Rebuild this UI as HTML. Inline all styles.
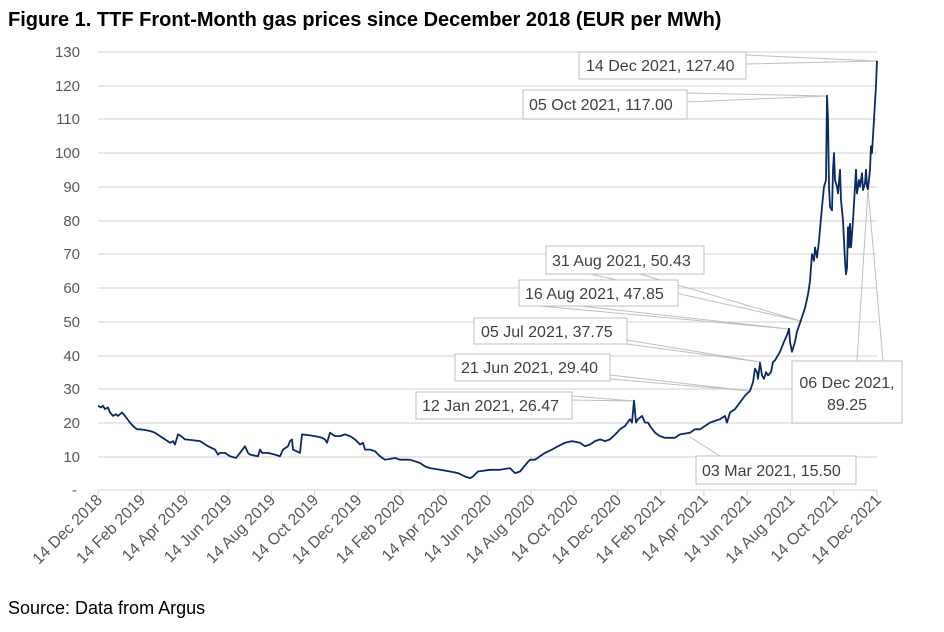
<!DOCTYPE html>
<html><head><meta charset="utf-8"><style>
body{margin:0;background:#fff;width:944px;height:627px;overflow:hidden;font-family:"Liberation Sans",sans-serif}
</style></head><body>
<svg width="944" height="627" xmlns="http://www.w3.org/2000/svg" font-family="Liberation Sans, sans-serif">
<text x="8" y="26" font-size="20" font-weight="bold" fill="#000">Figure 1. TTF Front-Month gas prices since December 2018 (EUR per MWh)</text>
<g stroke="#d9d9d9" stroke-width="1.2">
<line x1="98" x2="877" y1="52" y2="52"/><line x1="98" x2="877" y1="86" y2="86"/><line x1="98" x2="877" y1="119" y2="119"/><line x1="98" x2="877" y1="153" y2="153"/><line x1="98" x2="877" y1="187" y2="187"/><line x1="98" x2="877" y1="221" y2="221"/><line x1="98" x2="877" y1="254" y2="254"/><line x1="98" x2="877" y1="288" y2="288"/><line x1="98" x2="877" y1="322" y2="322"/><line x1="98" x2="877" y1="356" y2="356"/><line x1="98" x2="877" y1="389" y2="389"/><line x1="98" x2="877" y1="423" y2="423"/><line x1="98" x2="877" y1="457" y2="457"/>
<line x1="98" x2="877" y1="490" y2="490"/>
</g>
<g font-size="15" fill="#595959" text-anchor="end">
<text x="80" y="57">130</text><text x="80" y="91">120</text><text x="80" y="124">110</text><text x="80" y="158">100</text><text x="80" y="192">90</text><text x="80" y="226">80</text><text x="80" y="259">70</text><text x="80" y="293">60</text><text x="80" y="327">50</text><text x="80" y="361">40</text><text x="80" y="394">30</text><text x="80" y="428">20</text><text x="80" y="462">10</text><text x="77" y="495">-</text>
</g>
<g stroke="#d9d9d9" stroke-width="1.2" id="ticks"></g>
<g font-size="16" fill="#595959" text-anchor="end" id="xl"></g>
<g fill="none" stroke="#bfbfbf" stroke-width="1">
<polyline points="746,55 877,61 746,64"/>
<polyline points="687,93 827,96 687,102"/>
<polyline points="590,274 801,321 640,274"/>
<polyline points="540,306 789,329 580,306"/>
<polyline points="627,340 760,362 627,344"/>
<polyline points="610,375 750,391 610,379"/>
<polyline points="572,396 634,401 572,400"/>
<polyline points="690,437 720,456 760,456"/>
<polyline points="857,361 868,189 883,361"/>
</g>
<polyline fill="none" stroke="#0b2a63" stroke-width="1.8" stroke-linejoin="round" id="ser"/>
<g font-size="16" fill="#404040">
<rect x="579" y="52" width="167" height="27" fill="#fff" stroke="#bfbfbf"/><text x="586" y="71">14 Dec 2021,  127.40</text>
<rect x="523" y="90" width="164" height="29" fill="#fff" stroke="#bfbfbf"/><text x="529" y="110">05 Oct 2021,  117.00</text>
<rect x="546" y="246" width="158" height="28" fill="#fff" stroke="#bfbfbf"/><text x="552" y="266">31 Aug 2021,  50.43</text>
<rect x="519" y="280" width="159" height="26" fill="#fff" stroke="#bfbfbf"/><text x="525" y="299">16 Aug 2021,  47.85</text>
<rect x="474" y="318" width="153" height="26" fill="#fff" stroke="#bfbfbf"/><text x="481" y="337">05 Jul 2021,  37.75</text>
<rect x="455" y="354" width="155" height="27" fill="#fff" stroke="#bfbfbf"/><text x="461" y="373">21 Jun 2021,  29.40</text>
<rect x="416" y="392" width="156" height="27" fill="#fff" stroke="#bfbfbf"/><text x="422" y="411">12 Jan 2021,  26.47</text>
<rect x="696" y="456" width="160" height="28" fill="#fff" stroke="#bfbfbf"/><text x="702" y="476">03 Mar 2021,  15.50</text>
<rect x="792" y="361" width="110" height="62" fill="#fff" stroke="#bfbfbf"/><text x="847" y="388" text-anchor="middle">06 Dec 2021,</text><text x="847" y="410" text-anchor="middle">89.25</text>
</g>
<text x="8" y="614" font-size="18" fill="#000">Source: Data from Argus</text>
</svg>
<script>
var months=["Dec 2018","Feb 2019","Apr 2019","Jun 2019","Aug 2019","Oct 2019","Dec 2019","Feb 2020","Apr 2020","Jun 2020","Aug 2020","Oct 2020","Dec 2020","Feb 2021","Apr 2021","Jun 2021","Aug 2021","Oct 2021","Dec 2021"];
var t=document.getElementById('ticks'),xl=document.getElementById('xl'),ns="http://www.w3.org/2000/svg";
months.forEach(function(m,i){var x=98+i*779/18;
var l=document.createElementNS(ns,'line');l.setAttribute('x1',x);l.setAttribute('x2',x);l.setAttribute('y1',490);l.setAttribute('y2',496);t.appendChild(l);
var tx=document.createElementNS(ns,'text');tx.setAttribute('transform','translate('+(x+5)+',501) rotate(-45)');tx.textContent='14 '+m;xl.appendChild(tx);});
var d=[[98,25],[101,24.5],[103,25],[105,24],[108,24.5],[110,23],[113,22],[116,22.5],[118,22],[122,23],[125,22],[130,20],[133,19],[137,18],[140,18],[145,17.8],[150,17.5],[155,17],[160,16],[165,15],[170,14],[173,14.5],[175,13.5],[178,16.5],[181,16],[185,15],[192,14.8],[200,14.5],[208,13],[215,12],[218,10.5],[220,11],[225,11],[230,10],[236,9.5],[240,11],[245,13],[248,11],[250,10.5],[258,10],[260,12],[262,11],[268,11],[275,10.5],[280,10],[283,12],[288,13],[290,14.5],[292,15],[293,12],[300,11],[302,16.5],[310,16.2],[315,16],[322,15.5],[325,15],[327,14],[330,17],[335,16],[340,16],[345,16.5],[350,16],[355,15],[360,13.5],[363,14],[365,12],[370,12],[375,11.5],[380,10],[385,9],[395,9.5],[400,9],[410,9],[420,8],[425,7],[430,6.5],[440,6],[450,5.5],[458,5],[465,4],[470,3.5],[473,4],[478,5.5],[490,6],[500,6],[510,6.5],[515,5],[520,5.5],[527,8],[530,9],[535,9],[540,10],[545,11],[552,12],[558,13],[565,14],[572,14.5],[580,14],[585,13],[590,13.5],[595,14.5],[600,15],[605,14.5],[610,15],[617,17],[620,18],[625,19],[630,21],[632,20],[634,26.5],[636,20],[638,21],[642,22],[645,20],[648,20],[650,19],[655,17],[660,16],[665,15.5],[675,15.5],[680,16.5],[690,17],[695,18],[700,18],[705,19],[710,20],[715,20.5],[720,21],[725,22],[727,20],[730,23],[735,24],[740,26],[745,28],[750,29.4],[753,32],[755,36],[757,35],[758,33],[760,37.75],[762,34],[764,33],[766,35],[768,34],[771,35],[773,38],[775,38.5],[778,40],[780,41],[784,44],[787,46],[789,47.85],[790,44],[792,41],[795,44],[797,47],[801,50.43],[805,54],[808,58],[810,62],[812,70],[814,68],[815,72],[817,69],[819,74],[822,84],[824,90],[826,92],[827,117],[828,110],[829,90],[830,84],[832,83],[833,95],[834,100],[835,92],[837,90],[838,88],[840,95],[841,86],[843,80],[845,68],[846,64],[847,66],[848,78],[849,72],[850,79],[851,72],[852,76],[853,80],[855,90],[856,95],[857,88],[858,90],[859,92],[860,90],[862,94],[863,89],[865,91],[866,95],[867,90],[868,89.25],[870,95],[871,102],[872,100],[874,110],[876,120],[877,127.4]];
document.getElementById('ser').setAttribute('points',d.map(function(p){return p[0]+','+(490-p[1]*3.37).toFixed(1)}).join(' '));
</script>
</body></html>
